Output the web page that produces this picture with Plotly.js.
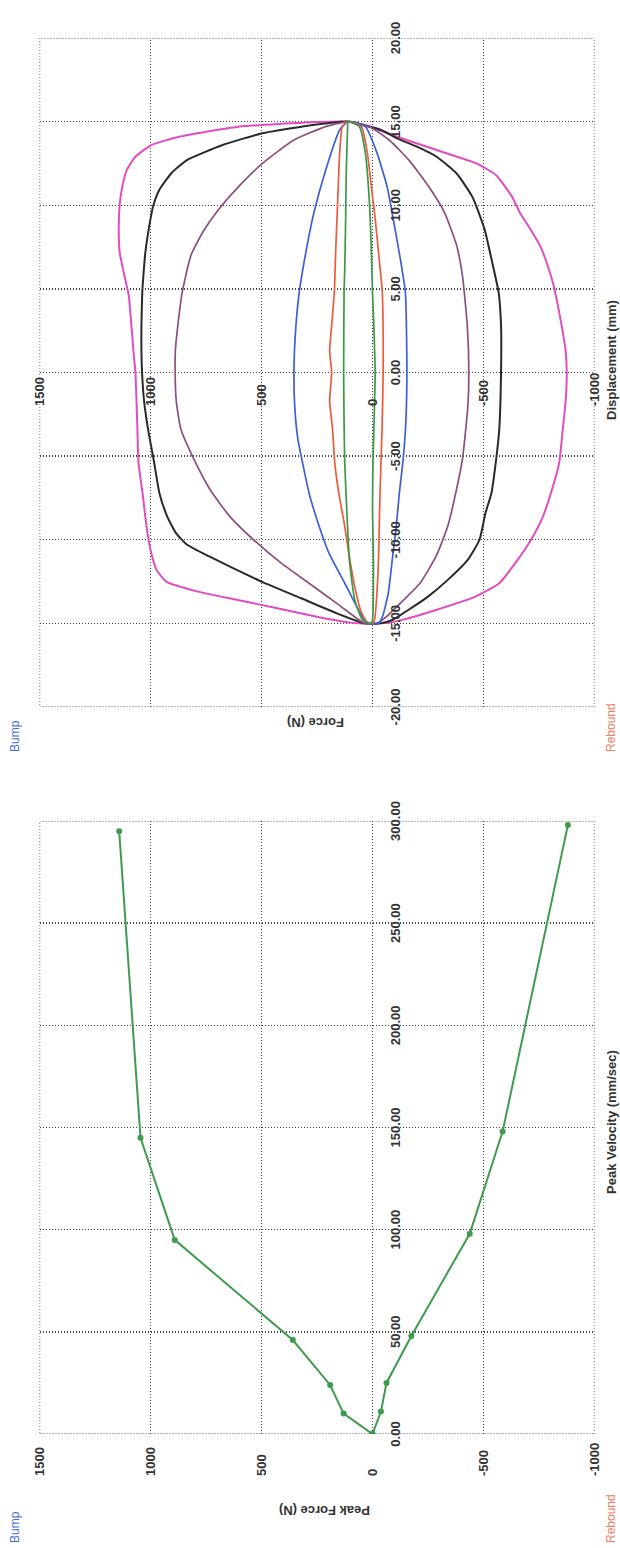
<!DOCTYPE html>
<html>
<head>
<meta charset="utf-8">
<script src="https://cdn.plot.ly/plotly-3.0.1.min.js"></script>
<style>
html,body{margin:0;padding:0;background:#fff;overflow:hidden;width:620px;height:1548px;}
#wrap{position:absolute;left:0;top:0;width:1548px;height:620px;transform-origin:0 0;transform:translate(0px,1548px) rotate(-90deg);}
#chart{width:1548px;height:620px;}
</style>
</head>
<body>
<div id="wrap"><div id="chart"></div></div>
<script>
// ---- Chart 1: Peak Force vs Peak Velocity ----
const velBump   = [0, 10, 24, 46, 95, 145, 295];
const forceBump = [0, 130, 191, 359, 891, 1045, 1141];
const velReb    = [0, 11, 25, 48, 98, 148, 298];
const forceReb  = [0, -38, -63, -175, -438, -586, -880];

const velTicks  = [0, 50, 100, 150, 200, 250, 300];
const velLabels = ['0.00', '50.00', '100.00', '150.00', '200.00', '250.00', '300.00'];
const forceTicks  = [-1000, -500, 0, 500, 1000, 1500];
const forceLabels = ['-1000', '-500', '0', '500', '1000', '1500'];
const dispTicks  = [-20, -15, -10, -5, 0, 5, 10, 15, 20];
const dispLabels = ['-20.00', '-15.00', '-10.00', '-5.00', '0.00', '5.00', '10.00', '15.00', '20.00'];

// ---- Chart 2: Force vs Displacement loops ----
const pinkDisp  = [-15,-14.94,-14.6,-14.1,-13.6,-13.1,-12.5,-11.8,-10.6,-9.2,-7.2,-5.4,-3.4,-1.7,0,1.3,2.8,4.6,6.0,7.2,8.8,10.0,10.9,12.1,12.9,13.6,14.1,14.7,14.98,15,
                   14.86,14.6,14.1,13.3,12.5,11.8,10.5,9.55,8.8,7.6,6.4,5.2,4.0,2.8,1.3,0,-1.7,-3.4,-5.4,-6.8,-8.6,-10,-11.4,-12.6,-13.4,-14.2,-14.76,-14.96,-15];
const pinkForce = [45,107,250,429,607,786,929,973,1000,1018,1036,1054,1059,1063,1068,1077,1086,1098,1121,1139,1143,1139,1130,1107,1068,996,871,604,250,110,
                   68,-4,-111,-289,-468,-557,-629,-664,-700,-754,-789,-816,-835,-852,-870,-875,-870,-857,-841,-813,-768,-714,-643,-571,-464,-286,-143,-71,45];
const blackDisp  = [-15,-14.4,-13.5,-12.5,-11.0,-10.3,-9.6,-8.6,-7.2,-5.2,-3.4,-1.7,0,1.3,2.8,4.8,5.8,7.2,8.8,9.95,10.9,11.9,12.7,13.6,14.3,14.7,15,
                    14.5,14.0,13.5,12.9,11.9,10.5,8.6,6.6,4.8,2.8,0,-3.4,-5.2,-7.2,-8.4,-10,-11.2,-12.4,-13.4,-14.2,-14.8,-15,-15];
const blackForce = [36,161,321,500,735,835,885,925,960,986,1011,1029,1038,1041,1041,1037,1032,1023,1005,988,961,907,836,675,496,318,110,
                    -39,-111,-200,-289,-379,-450,-504,-539,-568,-579,-579,-571,-557,-536,-509,-482,-429,-339,-250,-161,-89,-36,36];
const purpleDisp  = [-15,-14.7,-13.8,-12.6,-11.4,-10,-8.6,-7.0,-5.2,-3.4,-1.7,0,1.3,2.8,4.8,7.0,8.4,9.75,11.1,12.5,13.9,14.7,15,
                     14.7,13.9,12.7,11.1,9.55,7.6,5.8,2.8,0,-2.1,-5.2,-7.2,-9.2,-11.0,-12.6,-13.8,-14.7,-15,-15];
const purpleForce = [36,71,161,286,411,536,643,732,804,863,884,889,888,877,857,818,764,693,604,496,354,211,110,
                     14,-75,-164,-254,-325,-379,-405,-427,-434,-429,-405,-375,-339,-286,-214,-125,-54,-18,36];
const blueDisp  = [-15,-14.8,-14.0,-12.6,-10.8,-8.8,-7.2,-5.4,-4.0,-2.1,0,2.8,4.8,7.2,9.55,12.1,14.5,15,
                   14.7,13.1,11.1,9.2,7.2,4.8,0,-3.0,-5.2,-7.2,-9.2,-11.2,-13.2,-14.6,-15,-15];
const blueForce = [20,36,71,125,196,250,286,315,336,350,354,345,330,300,264,211,148,110,
                   32,-21,-66,-93,-120,-148,-155,-150,-138,-121,-107,-89,-71,-45,-27,20];
const redDisp  = [-15,-14.9,-14.2,-12.8,-10.8,-9.2,-7.2,-5.4,-3.4,-1.7,0,1.3,2.8,4.8,7.2,10.2,13.1,14.7,15,
                  14.7,13.1,11.1,9.2,6.8,4.8,0,-3.4,-5.4,-8.2,-11.2,-13.6,-14.8,-15,-15];
const redForce = [10,27,54,80,107,125,152,170,180,193,184,193,184,172,166,157,148,136,110,
                  50,23,5,-12,-30,-44,-48,-43,-38,-32,-27,-18,-9,0,10];
const greenDisp  = [-15,-14.8,-13.6,-11.2,-8.2,-5.4,-3.0,0,4.8,6.2,9.2,12.1,14.7,15,
                    14.7,13.1,10.2,7.2,4.8,2.4,0,-3.0,-5.4,-8.2,-11.2,-14.8,-15,-15];
const greenForce = [10,45,80,104,116,125,128,130,128,125,121,118,112,110,
                    59,32,14,5,0,-7,-12,-7,-2,0,-4,0,5,10];

const W = 1548, H = 620;
const fx = u => u / W;          // frame px -> paper x
const fy = v => 1 - v / H;      // frame px -> paper y

const GREEN = '#3e9a4f';
const loopLine = (c, w) => ({color: c, width: w, shape: 'spline', smoothing: 0.5});

const traces = [
  {x: velBump, y: forceBump, xaxis: 'x', yaxis: 'y', mode: 'lines+markers', line: {color: GREEN, width: 2}, marker: {color: GREEN, size: 6}},
  {x: velReb,  y: forceReb,  xaxis: 'x', yaxis: 'y', mode: 'lines+markers', line: {color: GREEN, width: 2}, marker: {color: GREEN, size: 6}},
  {x: pinkDisp,   y: pinkForce,   xaxis: 'x2', yaxis: 'y2', mode: 'lines', line: loopLine('#e24cc0', 2)},
  {x: blackDisp,  y: blackForce,  xaxis: 'x2', yaxis: 'y2', mode: 'lines', line: loopLine('#2a2a2a', 2)},
  {x: purpleDisp, y: purpleForce, xaxis: 'x2', yaxis: 'y2', mode: 'lines', line: loopLine('#8a4f80', 1.7)},
  {x: blueDisp,   y: blueForce,   xaxis: 'x2', yaxis: 'y2', mode: 'lines', line: loopLine('#3d5fd8', 1.7)},
  {x: redDisp,    y: redForce,    xaxis: 'x2', yaxis: 'y2', mode: 'lines', line: loopLine('#ee5a3c', 1.7)},
  {x: greenDisp,  y: greenForce,  xaxis: 'x2', yaxis: 'y2', mode: 'lines', line: loopLine('#3a9848', 1.7)}
];

const tickFont = {family: 'Liberation Sans, Arial, sans-serif', size: 13, color: '#333', weight: 'bold'};
const DOT = '1px,2px';
const gridBase = {showgrid: true, gridcolor: '#444', griddash: DOT, gridwidth: 1.4, zeroline: false, showline: false, ticks: '', tickfont: tickFont, fixedrange: true};

// shared force geometry (frame px), chart x-extents (frame px)
const fv0 = 39.5, fv1 = 594.5;
const c1u0 = 114, c1u1 = 727;
const c2u0 = 841, c2u1 = 1510;

const yDom = [fy(fv1), fy(fv0)];
const zeroPos = yDom[0] + 0.4 * (yDom[1] - yDom[0]);

const titleFont = {family: 'Liberation Sans, Arial, sans-serif', size: 13, color: '#333', weight: 'bold'};
const ann = (text, u, v, extra) => Object.assign({text: text, xref: 'paper', yref: 'paper', x: fx(u), y: fy(v),
  xanchor: 'center', yanchor: 'middle', showarrow: false, font: titleFont}, extra || {});

const layout = {
  width: W, height: H,
  margin: {l: 0, r: 0, t: 0, b: 0},
  paper_bgcolor: '#fff', plot_bgcolor: '#fff',
  showlegend: false,
  font: {family: 'Liberation Sans, Arial, sans-serif', color: '#333'},
  xaxis: Object.assign({}, gridBase, {domain: [fx(c1u0), fx(c1u1)], range: [0, 300], tickmode: 'array', tickvals: velTicks, ticktext: velLabels,
          anchor: 'free', position: zeroPos, ticklabelstandoff: 13}),
  yaxis: Object.assign({}, gridBase, {domain: yDom, range: [-1000, 1500], tickmode: 'array', tickvals: forceTicks, ticktext: forceLabels,
          anchor: 'free', position: fx(68), ticklabelposition: 'inside', ticklabeloverflow: 'allow'}),
  xaxis2: Object.assign({}, gridBase, {domain: [fx(c2u0), fx(c2u1)], range: [-20, 20], tickmode: 'array', tickvals: dispTicks, ticktext: dispLabels,
          anchor: 'free', position: zeroPos, ticklabelstandoff: 13}),
  yaxis2: Object.assign({}, gridBase, {domain: yDom, range: [-1000, 1500], tickmode: 'array', tickvals: forceTicks, ticktext: forceLabels,
          anchor: 'free', position: fx(1138), ticklabelposition: 'inside', ticklabeloverflow: 'allow'}),
  shapes: [
    {type: 'rect', xref: 'x', yref: 'y', x0: 0, x1: 300, y0: -1000, y1: 1500, line: {color: '#444', width: 1.4, dash: DOT}},
    {type: 'rect', xref: 'x2', yref: 'y2', x0: -20, x1: 20, y0: -1000, y1: 1500, line: {color: '#444', width: 1.4, dash: DOT}}
  ],
  annotations: [
    ann('Bump', 3, 15, {xanchor: 'left', font: {family: 'Liberation Sans, Arial, sans-serif', size: 12, color: '#4a6bd6'}}),
    ann('Rebound', 3, 611, {xanchor: 'left', font: {family: 'Liberation Sans, Arial, sans-serif', size: 12, color: '#ee7b63'}}),
    ann('Bump', 794, 15, {xanchor: 'left', font: {family: 'Liberation Sans, Arial, sans-serif', size: 12, color: '#4a6bd6'}}),
    ann('Rebound', 794, 611, {xanchor: 'left', font: {family: 'Liberation Sans, Arial, sans-serif', size: 12, color: '#ee7b63'}}),
    ann('Peak Force (N)', 37, 325, {textangle: -90}),
    ann('Peak Velocity (mm/sec)', 426, 611),
    ann('Force (N)', 825, 315, {textangle: -90}),
    ann('Displacement (mm)', 1188, 611)
  ]
};

Plotly.newPlot('chart', traces, layout, {staticPlot: true, displayModeBar: false});
</script>
</body>
</html>
